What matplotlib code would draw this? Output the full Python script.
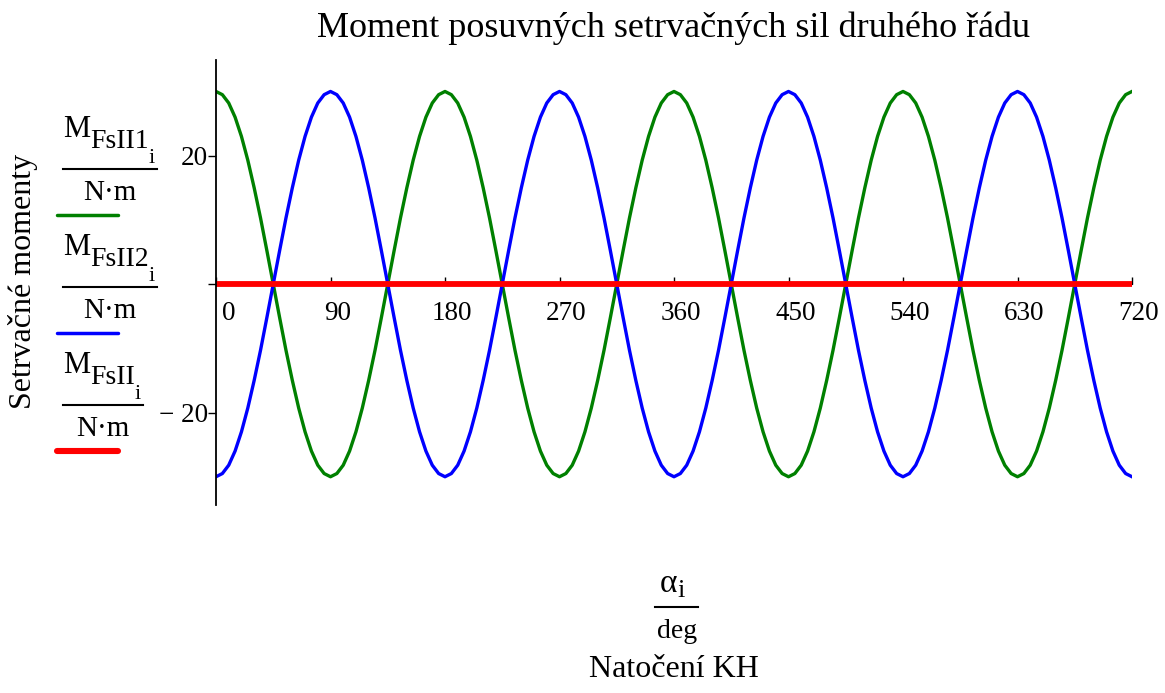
import numpy as np
import matplotlib.pyplot as plt

# rotation angle of the crankshaft, deg (sampled every 5 deg)
alpha = np.arange(0, 725, 5)

# moment of the 1st cylinder pair, N*m
m_fs2_1 = [30.0, 29.5, 28.2, 26.0, 23.0, 19.3, 15.0, 10.3, 5.2, 0.0, -5.2, -10.3, -15.0, -19.3, -23.0, -26.0, -28.2, -29.5,
           -30.0, -29.5, -28.2, -26.0, -23.0, -19.3, -15.0, -10.3, -5.2, 0.0, 5.2, 10.3, 15.0, 19.3, 23.0, 26.0, 28.2, 29.5,
           30.0, 29.5, 28.2, 26.0, 23.0, 19.3, 15.0, 10.3, 5.2, 0.0, -5.2, -10.3, -15.0, -19.3, -23.0, -26.0, -28.2, -29.5,
           -30.0, -29.5, -28.2, -26.0, -23.0, -19.3, -15.0, -10.3, -5.2, 0.0, 5.2, 10.3, 15.0, 19.3, 23.0, 26.0, 28.2, 29.5,
           30.0, 29.5, 28.2, 26.0, 23.0, 19.3, 15.0, 10.3, 5.2, 0.0, -5.2, -10.3, -15.0, -19.3, -23.0, -26.0, -28.2, -29.5,
           -30.0, -29.5, -28.2, -26.0, -23.0, -19.3, -15.0, -10.3, -5.2, 0.0, 5.2, 10.3, 15.0, 19.3, 23.0, 26.0, 28.2, 29.5,
           30.0, 29.5, 28.2, 26.0, 23.0, 19.3, 15.0, 10.3, 5.2, 0.0, -5.2, -10.3, -15.0, -19.3, -23.0, -26.0, -28.2, -29.5,
           -30.0, -29.5, -28.2, -26.0, -23.0, -19.3, -15.0, -10.3, -5.2, 0.0, 5.2, 10.3, 15.0, 19.3, 23.0, 26.0, 28.2, 29.5,
           30.0]

# moment of the 2nd cylinder pair, N*m
m_fs2_2 = [-30.0, -29.5, -28.2, -26.0, -23.0, -19.3, -15.0, -10.3, -5.2, 0.0, 5.2, 10.3, 15.0, 19.3, 23.0, 26.0, 28.2, 29.5,
           30.0, 29.5, 28.2, 26.0, 23.0, 19.3, 15.0, 10.3, 5.2, 0.0, -5.2, -10.3, -15.0, -19.3, -23.0, -26.0, -28.2, -29.5,
           -30.0, -29.5, -28.2, -26.0, -23.0, -19.3, -15.0, -10.3, -5.2, 0.0, 5.2, 10.3, 15.0, 19.3, 23.0, 26.0, 28.2, 29.5,
           30.0, 29.5, 28.2, 26.0, 23.0, 19.3, 15.0, 10.3, 5.2, 0.0, -5.2, -10.3, -15.0, -19.3, -23.0, -26.0, -28.2, -29.5,
           -30.0, -29.5, -28.2, -26.0, -23.0, -19.3, -15.0, -10.3, -5.2, 0.0, 5.2, 10.3, 15.0, 19.3, 23.0, 26.0, 28.2, 29.5,
           30.0, 29.5, 28.2, 26.0, 23.0, 19.3, 15.0, 10.3, 5.2, 0.0, -5.2, -10.3, -15.0, -19.3, -23.0, -26.0, -28.2, -29.5,
           -30.0, -29.5, -28.2, -26.0, -23.0, -19.3, -15.0, -10.3, -5.2, 0.0, 5.2, 10.3, 15.0, 19.3, 23.0, 26.0, 28.2, 29.5,
           30.0, 29.5, 28.2, 26.0, 23.0, 19.3, 15.0, 10.3, 5.2, 0.0, -5.2, -10.3, -15.0, -19.3, -23.0, -26.0, -28.2, -29.5,
           -30.0]

# resulting moment, N*m
m_fs2 = [0.0, 0.0, 0.0, 0.0, 0.0, 0.0, 0.0, 0.0, 0.0, 0.0, 0.0, 0.0, 0.0, 0.0, 0.0, 0.0, 0.0, 0.0,
         0.0, 0.0, 0.0, 0.0, 0.0, 0.0, 0.0, 0.0, 0.0, 0.0, 0.0, 0.0, 0.0, 0.0, 0.0, 0.0, 0.0, 0.0,
         0.0, 0.0, 0.0, 0.0, 0.0, 0.0, 0.0, 0.0, 0.0, 0.0, 0.0, 0.0, 0.0, 0.0, 0.0, 0.0, 0.0, 0.0,
         0.0, 0.0, 0.0, 0.0, 0.0, 0.0, 0.0, 0.0, 0.0, 0.0, 0.0, 0.0, 0.0, 0.0, 0.0, 0.0, 0.0, 0.0,
         0.0, 0.0, 0.0, 0.0, 0.0, 0.0, 0.0, 0.0, 0.0, 0.0, 0.0, 0.0, 0.0, 0.0, 0.0, 0.0, 0.0, 0.0,
         0.0, 0.0, 0.0, 0.0, 0.0, 0.0, 0.0, 0.0, 0.0, 0.0, 0.0, 0.0, 0.0, 0.0, 0.0, 0.0, 0.0, 0.0,
         0.0, 0.0, 0.0, 0.0, 0.0, 0.0, 0.0, 0.0, 0.0, 0.0, 0.0, 0.0, 0.0, 0.0, 0.0, 0.0, 0.0, 0.0,
         0.0, 0.0, 0.0, 0.0, 0.0, 0.0, 0.0, 0.0, 0.0, 0.0, 0.0, 0.0, 0.0, 0.0, 0.0, 0.0, 0.0, 0.0,
         0.0]

x_ticks = [0, 90, 180, 270, 360, 450, 540, 630, 720]
y_ticks = [-20, 0, 20]
y_tick_labels = ["\u2212 20", "", "20"]

legend_subs = ["FsII1", "FsII2", "FsII"]
colors = ["#008000", "#0000ff", "#ff0000"]

plt.rcParams['font.family'] = ['Liberation Serif', 'DejaVu Serif']

W, H = 1165, 693
fig = plt.figure(figsize=(W / 100, H / 100), dpi=100)


def px(x, y):
    # pixel position (from top left) -> figure fraction
    return x / W, 1 - y / H


ax = fig.add_axes([216 / W, 1 - 505 / H, (1132 - 216) / W, (505 - 60) / H])
ax.plot(alpha, m_fs2_1, color=colors[0], lw=2.4)
ax.plot(alpha, m_fs2_2, color=colors[1], lw=2.4)
ax.plot(alpha, m_fs2, color=colors[2], lw=4.2, solid_capstyle='butt')
ax.set_xlim(0, 720)
ax.set_ylim(-34.4, 34.9)

for s in ['top', 'right']:
    ax.spines[s].set_visible(False)
ax.spines['bottom'].set_position(('data', 0))
ax.spines['bottom'].set_zorder(0)
ax.spines['left'].set_linewidth(1.3)

ax.set_xticks(x_ticks)
ax.set_xticklabels([])
ax.tick_params(axis='x', direction='in', length=5, width=1)
ax.set_yticks(y_ticks)
ax.set_yticklabels(y_tick_labels, fontsize=19.5)
ax.tick_params(axis='y', direction='out', length=6, width=1, pad=0)

# x tick labels, Mathcad style (slightly right of the tick)
for v in x_ticks:
    dx = 13 if v == 0 else 7
    ax.annotate(str(v), (v, 0), xytext=(dx * 0.72, -29 * 0.72), textcoords='offset points',
                ha='center', va='center', fontsize=19.5)

fig.text(*px(674, 37), "Moment posuvných setrvačných sil druhého řádu", ha='center', va='baseline', fontsize=26)
fig.text(*px(23, 281), "Setrvačné momenty", rotation=90, ha='center', va='center', fontsize=23)

# legend made of fractions
renderer = fig.canvas.get_renderer()
for k, (sub, c) in enumerate(zip(legend_subs, colors)):
    bar_y = 169 + 118 * k
    t = fig.text(*px(63, bar_y - 32), "M", fontsize=22, va='baseline', ha='left')
    x1 = t.get_window_extent(renderer).x1
    t2 = fig.text(x1 / W, 1 - (bar_y - 21) / H, sub, fontsize=20, va='baseline', ha='left')
    x2 = t2.get_window_extent(renderer).x1
    t3 = fig.text(x2 / W, 1 - (bar_y - 6) / H, "i", fontsize=16, va='baseline', ha='left')
    bar_end = t3.get_window_extent(renderer).x1 + 2
    fig.add_artist(plt.Line2D([63 / W, bar_end / W], [1 - bar_y / H] * 2, color='black', lw=1.5))
    fig.text((63 + bar_end) / 2 / W, 1 - (bar_y + 31) / H, "N·m", fontsize=21, va='baseline', ha='center')
    fig.add_artist(plt.Line2D([57 / W, 118 / W], [1 - (bar_y + 46) / H] * 2, color=c,
                              lw=4.4 if k == 2 else 2.5, solid_capstyle='round'))

# x label fraction
t = fig.text(*px(660, 592), "\u03b1", fontsize=24, va='baseline', ha='left')
fig.text(t.get_window_extent(renderer).x1 / W, 1 - 597 / H, "i", fontsize=19, va='baseline', ha='left')
fig.add_artist(plt.Line2D([655 / W, 698 / W], [1 - 607 / H] * 2, color='black', lw=1.5))
fig.text(*px(677, 638), "deg", fontsize=20, va='baseline', ha='center')
fig.text(*px(674, 677), "Natočení KH", fontsize=23, va='baseline', ha='center')

fig.savefig('out.png', dpi=100)
